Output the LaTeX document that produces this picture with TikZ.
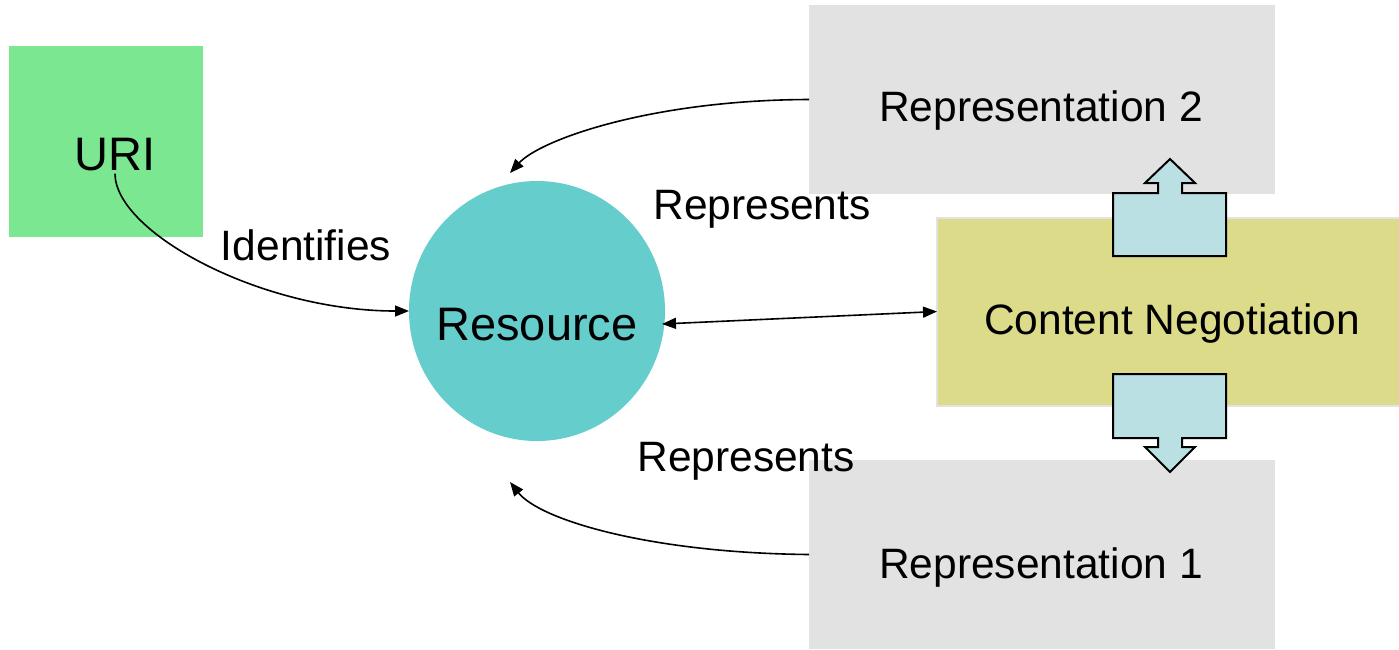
\documentclass[tikz,border=0pt]{standalone}
\usepackage{fontspec}
\setmainfont{Liberation Sans}
\usetikzlibrary{arrows.meta,shapes.geometric}
\definecolor{urigreen}{HTML}{7BE791}
\definecolor{rescyan}{HTML}{66CDCD}
\definecolor{repgray}{HTML}{E2E2E2}
\definecolor{cnyellow}{HTML}{DBDB8A}
\definecolor{cnborder}{HTML}{E2E2E2}
\definecolor{arrcyan}{HTML}{BAE0E3}
\tikzset{
  box/.style={draw=none, minimum width=#1, inner sep=0pt, outer sep=0pt},
  bigtxt/.style={font=\fontsize{47}{54}\selectfont, inner sep=0pt},
  txt/.style={font=\fontsize{42.5}{50}\selectfont, inner sep=0pt},
  conn/.style={line width=1.6pt, -{Triangle[length=14pt,width=11pt]}},
  blockarrow/.style={fill=arrcyan, draw=black, line width=2pt, line join=miter}
}
\begin{document}
\begin{tikzpicture}[x=1pt,y=-1pt]
\useasboundingbox (0,0) rectangle (1399,649);
% boxes
\node[box=194pt, minimum height=191pt, fill=urigreen] (uri) at (106,141.5) {};
\node[box=466pt, minimum height=189pt, fill=repgray] (rep2) at (1042,99.5) {};
\node[box=466pt, minimum height=189pt, fill=repgray] (rep1) at (1042,554.5) {};
\node[box=470pt, minimum height=188pt, fill=cnyellow, draw=cnborder, line width=2pt] (cn) at (1172,311.5) {};
\node[ellipse, draw=none, fill=rescyan, minimum width=256pt, minimum height=260pt, inner sep=0pt, outer sep=0pt] (res0) at (537,311) {};
% block arrows
\draw[blockarrow] (1113,256) -- (1113,193) -- (1158,193) -- (1158,183) -- (1145,183) -- (1170,159) -- (1195,183) -- (1182,183) -- (1182,193) -- (1226,193) -- (1226,256) -- cycle;
\draw[blockarrow] (1113,374) -- (1113,438) -- (1158,438) -- (1158,447) -- (1145,447) -- (1170,472) -- (1195,447) -- (1182,447) -- (1182,438) -- (1226,438) -- (1226,374) -- cycle;
% texts
\node[bigtxt] (uritext) at (115,155) {URI};
\node[bigtxt] (restext) at (537,325) {Resource};
\node[txt] (rep2text) at (1041,111) {Representation 2};
\node[txt] (rep1text) at (1041,567) {Representation 1};
\node[txt] (cntext) at (1172,324) {Content Negotiation};
\node[txt] (lid) at (306,245) {Identifies};
\node[txt] (lr2) at (762,209) {Represents};
\node[txt] (lr1) at (746,461) {Represents};
% connectors
\coordinate (r2end) at (510,173);
\coordinate (r1end) at (510,482);
\coordinate (resR) at (662,324);
\draw[conn] ([yshift=-2pt]uritext.south) .. controls (115,232) and (260,311) .. (res0.west);
\draw[conn] (rep2.west) .. controls (650,100) and (540,140) .. (r2end);
\draw[conn] (rep1.west) .. controls (650,553) and (540,520) .. (r1end);
\draw[line width=1.6pt, {Triangle[length=14pt,width=11pt]}-{Triangle[length=14pt,width=11pt]}] (resR) -- (cn.west);
\end{tikzpicture}
\end{document}
